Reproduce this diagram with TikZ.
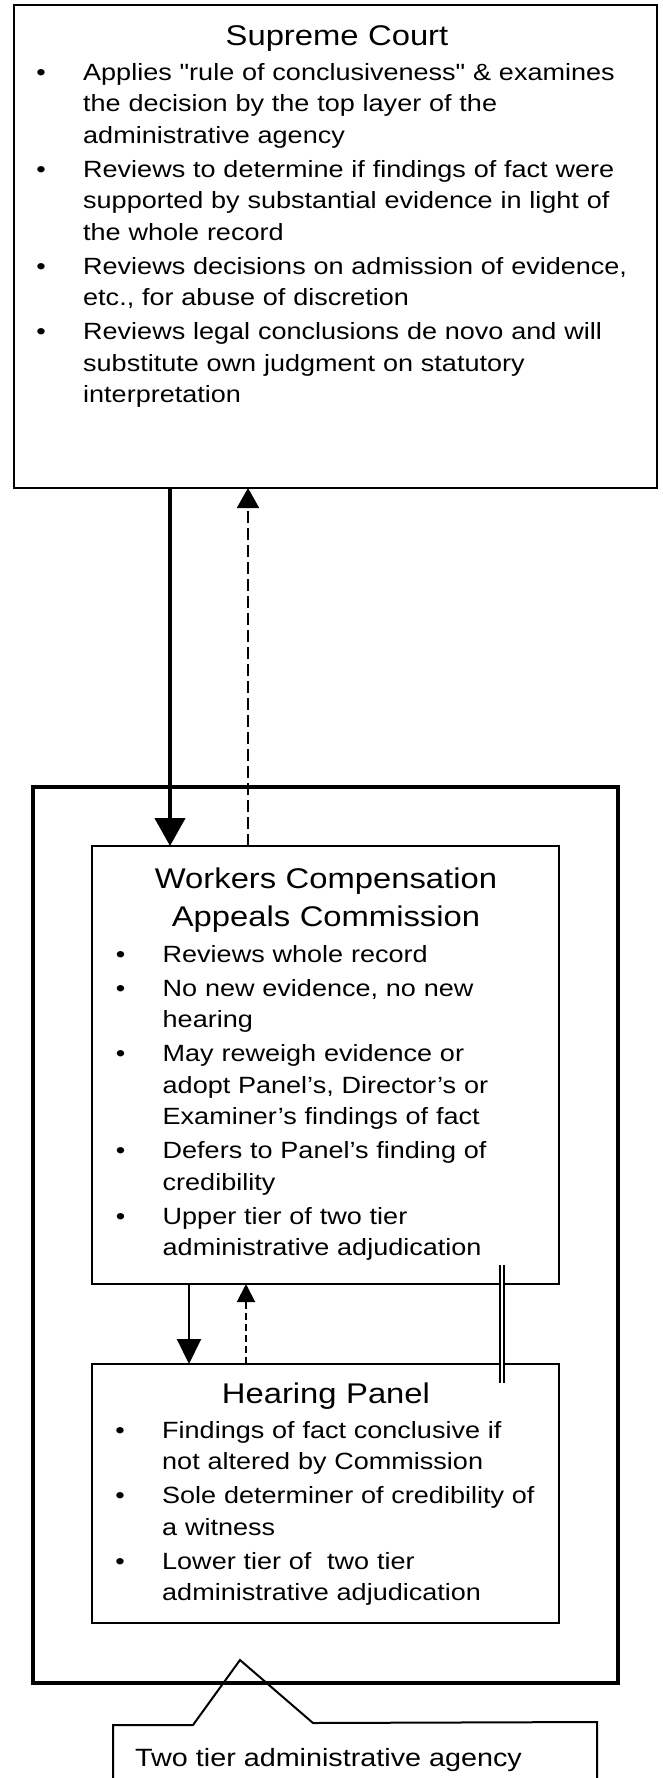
\documentclass[tikz,border=0pt]{standalone}
\usepackage{fontspec}
\setmainfont{Liberation Sans}[FakeStretch=1.15]
\newfontfamily\plainf{Liberation Sans}[FakeStretch=1.15]
\usetikzlibrary{arrows.meta}
\newcommand\bitm{\leavevmode\llap{\textbullet\hspace{37.3pt}}}
\newcommand\dq{{\plainf"}}
\tikzset{
  box/.style={draw, rectangle, line width=2pt, inner sep=0pt, outer sep=0pt},
  outerbox/.style={draw, rectangle, line width=4.5pt, inner sep=0pt, outer sep=0pt},
  ttl/.style={font=\fontsize{28.5}{38.5}\selectfont, inner sep=0pt, anchor=base, text width=420pt, align=center},
  body/.style={font=\fontsize{23.5}{31.5}\selectfont, inner sep=0pt, anchor=base west, text width=560pt, align=left},
  note/.style={font=\fontsize{25}{31}\selectfont, inner sep=0pt, anchor=base west},
  thickarr/.style={line width=4.5pt, -{Triangle[width=30pt,length=28pt]}},
  thinarr/.style={line width=2pt, -{Triangle[width=24pt,length=25pt]}},
  dasharr/.style={line width=2pt, dash pattern=on 12pt off 5pt, -{Triangle[width=22pt,length=20pt]}},
  dasharrb/.style={line width=2pt, dash pattern=on 7pt off 4pt, -{Triangle[width=18pt,length=18pt]}},
  dbl/.style={line width=1.5pt, double, double distance=2.5pt},
  calloutline/.style={line width=2pt, line join=miter}
}
\begin{document}
\begin{tikzpicture}[x=1pt, y=-1pt]
\fill[white] (0,0) rectangle (662,1778);
\useasboundingbox (0,0) rectangle (662,1778);

% boxes
\node[box, minimum width=643pt, minimum height=483pt] (sc) at (335.5,246.5) {};
\node[outerbox, minimum width=585pt, minimum height=896pt] (outer) at (325.5,1235) {};
\node[box, minimum width=467pt, minimum height=438pt] (wcac) at (325.5,1065) {};
\node[box, minimum width=467pt, minimum height=259pt] (panel) at (325.5,1493.5) {};

% Supreme Court text
\node[ttl] (sctitle) at (337,45) {Supreme Court};
\node[body] (sctext) at (83,80) {\setlength{\parskip}{2.5pt}%
\bitm Applies \dq rule of conclusiveness\dq{} \& examines\\the decision by the top layer of the\\administrative agency\par
\bitm Reviews to determine if findings of fact were\\supported by substantial evidence in light of\\the whole record\par
\bitm Reviews decisions on admission of evidence,\\etc., for abuse of discretion\par
\bitm Reviews legal conclusions de novo and will\\substitute own judgment on statutory\\interpretation};

% Commission text
\node[ttl] (wctitle) at (326,888) {Workers Compensation\\Appeals Commission};
\node[body] (wctext) at (162.5,962) {\setlength{\parskip}{2.5pt}%
\bitm Reviews whole record\par
\bitm No new evidence, no new\\hearing\par
\bitm May reweigh evidence or\\adopt Panel's, Director's or\\Examiner's findings of fact\par
\bitm Defers to Panel's finding of\\credibility\par
\bitm Upper tier of two tier\\administrative adjudication};

% Panel text
\node[ttl] (hptitle) at (326,1403) {Hearing Panel};
\node[body] (hptext) at (162,1438) {\setlength{\parskip}{2.5pt}%
\bitm Findings of fact conclusive if\\not altered by Commission\par
\bitm Sole determiner of credibility of\\a witness\par
\bitm Lower tier of~ two tier\\administrative adjudication};

% connector x positions
\coordinate (xa) at (170,0);
\coordinate (xb) at (248,0);
\coordinate (xc) at (189,0);
\coordinate (xd) at (246,0);
\coordinate (xe) at (502,0);

\draw[thickarr] (sc.south -| xa) -- (wcac.north -| xa);
\draw[dasharr] (wcac.north -| xb) -- (sc.south -| xb);
\draw[thinarr] (wcac.south -| xc) -- (panel.north -| xc);
\draw[dasharrb] (panel.north -| xd) -- (wcac.south -| xd);
\draw[dbl] ([yshift=19pt]wcac.south -| xe) -- ([yshift=-19pt]panel.north -| xe);

% callout
\node[note] (agency) at (135,1766) {Two tier administrative agency};
\draw[calloutline] (113,1790) -- (113,1725) -- (193,1725) -- (240,1660) -- (313,1723) -- (597,1722) -- (597,1790);
\end{tikzpicture}
\end{document}
